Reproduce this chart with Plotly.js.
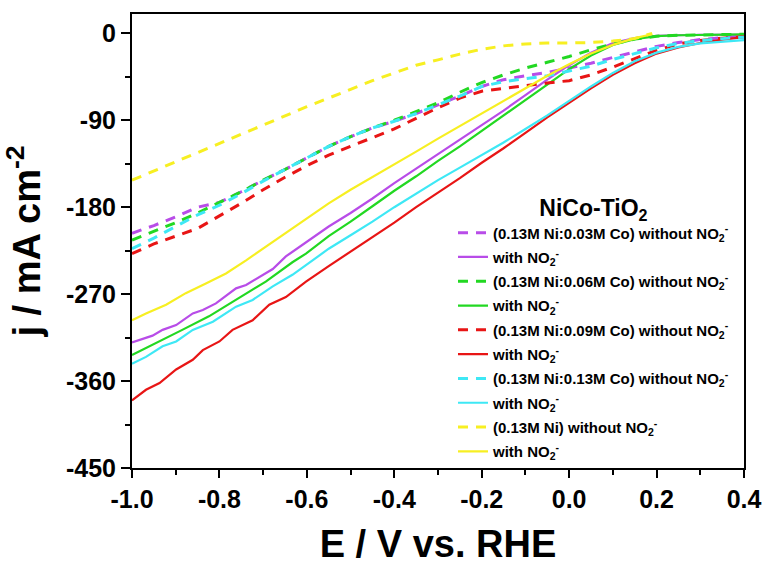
<!DOCTYPE html>
<html>
<head>
<meta charset="utf-8">
<script src="https://cdn.plot.ly/plotly-3.0.1.min.js"></script>
<style>html,body{margin:0;padding:0;background:#fff}#chart{width:768px;height:568px}</style>
</head>
<body>
<div id="chart"></div>
<script>
// ---- data ----
const xGrid = [-1.0,-0.95,-0.9,-0.85,-0.8,-0.75,-0.7,-0.65,-0.6,-0.55,-0.5,-0.45,-0.4,-0.35,-0.3,-0.25,-0.2,-0.15,-0.1,-0.05,0.0,0.05,0.1,0.15,0.2,0.25,0.3,0.35,0.4];

const purpleDashY = [-207,-199,-190,-180,-175,-164,-152,-141,-129,-117,-107,-98,-91,-83,-74,-65,-55,-48,-44,-40.5,-36,-31,-25,-19,-13.5,-9.5,-6.5,-4.5,-3];
const greenDashY  = [-214,-205,-196,-186,-175,-164,-152,-141,-129,-117,-107,-98,-90,-81,-72,-61,-51,-43,-36,-30,-24,-17,-11,-6,-3,-2,-1.5,-1,-1];
const redDashY    = [-228,-218,-210,-202,-189,-176,-162,-149,-137,-126,-117,-108,-99,-88,-77,-67,-60,-57,-54,-51.5,-49,-43,-35,-26,-17.5,-11,-7.5,-5,-3.5];
const cyanDashY   = [-223,-212,-200,-188,-178,-166,-153,-141,-129,-117,-107,-98,-91,-83,-74,-65,-55,-50,-47,-44,-39,-34,-27,-21,-15,-10.5,-7.5,-5.5,-4];

const yellowDashX = [-1.0,-0.9,-0.8,-0.7,-0.6,-0.5,-0.45,-0.4,-0.35,-0.3,-0.25,-0.2,-0.15,-0.1,-0.05,0.0,0.05,0.1,0.15,0.19];
const yellowDashY = [-152,-133,-114,-95,-76,-58,-49,-41,-33,-27.5,-21.5,-16.5,-13,-11,-10,-10,-9.5,-8,-5.5,0];

const redSolidX = [-1.0,-0.968,-0.937,-0.899,-0.861,-0.838,-0.8,-0.77,-0.724,-0.686,-0.648,-0.602,-0.55,-0.5,-0.45,-0.4,-0.35,-0.3,-0.25,-0.2,-0.15,-0.1,-0.05,0.0,0.05,0.1,0.15,0.2,0.25,0.3,0.35,0.4];
const redSolidY = [-380,-369,-362,-348,-338,-328,-319,-307,-297,-281,-273,-257,-241,-226,-211,-196,-180,-165,-150,-134,-119,-103,-87,-72,-57,-43,-31,-21,-14.5,-10,-6.5,-4];

const cyanSolidX = [-1.0,-0.968,-0.93,-0.899,-0.861,-0.815,-0.762,-0.724,-0.678,-0.633,-0.602,-0.55,-0.5,-0.45,-0.4,-0.35,-0.3,-0.25,-0.2,-0.15,-0.1,-0.05,0.0,0.05,0.1,0.15,0.2,0.25,0.3,0.35,0.4];
const cyanSolidY = [-342,-335,-324,-319,-307,-298.5,-283,-276,-262,-250,-240,-223,-209,-195,-180,-166,-152,-139,-126,-113,-99,-85,-70,-55,-41,-29,-20,-14,-10.5,-8.5,-7];

const greenSolidX = [-1.0,-0.946,-0.885,-0.824,-0.762,-0.694,-0.633,-0.602,-0.55,-0.5,-0.45,-0.4,-0.35,-0.3,-0.25,-0.2,-0.15,-0.1,-0.05,0.0,0.05,0.1,0.15,0.2,0.25,0.3,0.4];
const greenSolidY = [-333,-321,-307,-293,-276,-257,-237,-228,-210,-195,-179,-163,-148,-132,-117,-101,-85,-69,-53,-37,-23,-12,-6,-3,-2,-1.5,-1];

const purpleSolidX = [-1.0,-0.953,-0.93,-0.899,-0.861,-0.838,-0.808,-0.762,-0.739,-0.709,-0.678,-0.648,-0.602,-0.55,-0.5,-0.45,-0.4,-0.35,-0.3,-0.25,-0.2,-0.15,-0.1,-0.05,0.0,0.05,0.1,0.15,0.2,0.25,0.3,0.4];
const purpleSolidY = [-320,-313,-307,-302,-290,-286.5,-279.6,-264,-260.6,-252,-244,-231,-216,-200,-186,-171,-155,-140,-125,-110,-95,-80,-64,-48,-33,-20,-10,-5,-2.5,-1.8,-1.5,-1.5];

const yellowSolidX = [-1.0,-0.968,-0.922,-0.877,-0.831,-0.785,-0.739,-0.694,-0.648,-0.602,-0.55,-0.5,-0.45,-0.4,-0.35,-0.3,-0.25,-0.2,-0.15,-0.1,-0.05,0.0,0.05,0.1,0.15,0.19];
const yellowSolidY = [-297,-290,-281,-269,-259,-248.6,-235,-221,-207,-192,-176,-162,-149,-136,-122.5,-109,-96,-83,-70,-57,-44,-32,-21,-12,-5,-1];

const seriesNames = [
  '(0.13M Ni:0.03M Co) without NO<sub>2</sub><sup>-</sup>',
  'with NO<sub>2</sub><sup>-</sup>',
  '(0.13M Ni:0.06M Co) without NO<sub>2</sub><sup>-</sup>',
  'with NO<sub>2</sub><sup>-</sup>',
  '(0.13M Ni:0.09M Co) without NO<sub>2</sub><sup>-</sup>',
  'with NO<sub>2</sub><sup>-</sup>',
  '(0.13M Ni:0.13M Co) without NO<sub>2</sub><sup>-</sup>',
  'with NO<sub>2</sub><sup>-</sup>',
  '(0.13M Ni) without NO<sub>2</sub><sup>-</sup>',
  'with NO<sub>2</sub><sup>-</sup>'
];

const yTickVals = [0,-90,-180,-270,-360,-450];
const yTickText = ['0','-90','-180','-270','-360','-450'];
const xTickVals = [-1.0,-0.8,-0.6,-0.4,-0.2,0.0,0.2,0.4];
const xTickText = ['-1.0','-0.8','-0.6','-0.4','-0.2','0.0','0.2','0.4'];

// ---- styling ----
const cPurple = '#B84CE8', cGreen = '#22D822', cRed = '#E81515', cCyan = '#3EE8F5', cYellow = '#F7EF22';
const dashStyle = '10px,8px';

let gid = 0;
function dashed(x, y, name, color) {
  gid++;
  return {x: x, y: y, name: name, type: 'scatter', mode: 'lines', legendgroup: 'g' + gid,
          line: {color: color, width: 3, dash: dashStyle}};
}
function solid(x, y, name, color) {
  gid++;
  return {x: x, y: y, name: name, type: 'scatter', mode: 'lines', legendgroup: 'g' + gid,
          line: {color: color, width: 2.2}};
}

const traces = [
  dashed(xGrid, purpleDashY, seriesNames[0], cPurple),
  solid(purpleSolidX, purpleSolidY, seriesNames[1], cPurple),
  dashed(xGrid, greenDashY, seriesNames[2], cGreen),
  solid(greenSolidX, greenSolidY, seriesNames[3], cGreen),
  dashed(xGrid, redDashY, seriesNames[4], cRed),
  solid(redSolidX, redSolidY, seriesNames[5], cRed),
  dashed(xGrid, cyanDashY, seriesNames[6], cCyan),
  solid(cyanSolidX, cyanSolidY, seriesNames[7], cCyan),
  dashed(yellowDashX, yellowDashY, seriesNames[8], cYellow),
  solid(yellowSolidX, yellowSolidY, seriesNames[9], cYellow)
];

const FONT = 'Liberation Sans, Arial, sans-serif';

const layout = {
  width: 768, height: 568,
  paper_bgcolor: '#fff', plot_bgcolor: '#fff',
  margin: {l: 132, r: 24, t: 14, b: 100, pad: 0},
  font: {family: FONT, color: '#000'},
  showlegend: true,
  legend: {
    x: 0.5245, y: 0.62, xanchor: 'left', yanchor: 'top',
    bgcolor: 'rgba(0,0,0,0)', borderwidth: 0,
    traceorder: 'grouped', tracegroupgap: 1.8,
    font: {family: FONT, size: 15, color: '#000', weight: 'bold'},
    title: {text: '<b>NiCo-TiO<sub>2</sub></b>', side: 'top center', font: {family: FONT, size: 23, color: '#000'}}
  },
  xaxis: {
    range: [-1.0, 0.4], autorange: false,
    showgrid: false, zeroline: false,
    showline: true, mirror: true, linecolor: '#000', linewidth: 2,
    ticks: 'outside', ticklen: 8, tickwidth: 2, tickcolor: '#000',
    tickmode: 'array', tickvals: xTickVals, ticktext: xTickText,
    tickfont: {family: FONT, size: 25, color: '#000', weight: 'bold'},
    minor: {tickmode: 'linear', tick0: -1.0, dtick: 0.1, ticks: 'outside', ticklen: 5, tickwidth: 2, tickcolor: '#000', showgrid: false},
    title: {text: '<b>E / V vs. RHE</b>', font: {family: FONT, size: 38, color: '#000'}, standoff: 18}
  },
  yaxis: {
    range: [-450, 20], autorange: false,
    showgrid: false, zeroline: false,
    showline: true, mirror: true, linecolor: '#000', linewidth: 2,
    ticks: 'outside', ticklen: 9, tickwidth: 2, tickcolor: '#000',
    tickmode: 'array', tickvals: yTickVals, ticktext: yTickText,
    tickfont: {family: FONT, size: 25, color: '#000', weight: 'bold'},
    minor: {tickmode: 'linear', tick0: 0, dtick: 45, ticks: 'outside', ticklen: 5, tickwidth: 2, tickcolor: '#000', showgrid: false},
    title: {text: '<b>j / mA cm<sup>-2</sup></b>', font: {family: FONT, size: 38, color: '#000'}, standoff: 14}
  }
};

Plotly.newPlot('chart', traces, layout, {displayModeBar: false, staticPlot: true});
</script>
</body>
</html>
